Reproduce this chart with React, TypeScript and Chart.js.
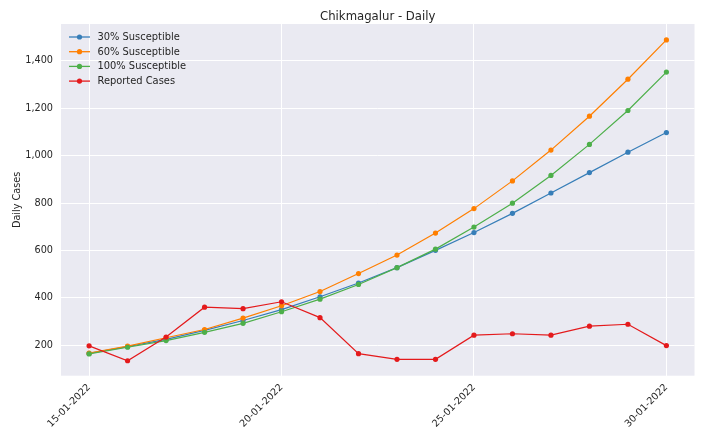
import React, { useEffect, useRef } from "react";
import { Chart, registerables } from "chart.js";

Chart.register(...registerables);

const dates = [
  "15-01-2022", "16-01-2022", "17-01-2022", "18-01-2022", "19-01-2022", "20-01-2022",
  "21-01-2022", "22-01-2022", "23-01-2022", "24-01-2022", "25-01-2022", "26-01-2022",
  "27-01-2022", "28-01-2022", "29-01-2022", "30-01-2022",
];
const tickDates = ["15-01-2022", "20-01-2022", "25-01-2022", "30-01-2022"];
const yTicks = [200, 400, 600, 800, 1000, 1200, 1400];

const susceptible30 = [166, 195, 225, 263, 305, 351, 405, 463, 528, 601, 676, 757, 843, 929, 1015, 1098];
const susceptible60 = [167, 197, 232, 267, 315, 367, 427, 503, 581, 674, 777, 894, 1024, 1167, 1323, 1489];
const susceptible100 = [164, 192, 220, 255, 293, 342, 395, 457, 528, 606, 699, 800, 917, 1048, 1191, 1353];
const reported = [198, 135, 235, 361, 355, 384, 317, 165, 141, 141, 243, 249, 243, 281, 289, 199];

const seriesNames = ["30% Susceptible", "60% Susceptible", "100% Susceptible", "Reported Cases"];
const seriesColors = ["#377eb8", "#ff7f00", "#4daf4a", "#e41a1c"];
const seriesValues = [susceptible30, susceptible60, susceptible100, reported];

const titleText = "Chikmagalur - Daily";
const yLabel = "Daily Cases";
const FONT = "'DejaVu Sans', sans-serif";
const TEXT = "#262626";

const decorPlugin = {
  id: "decor",
  beforeDraw(chart: any) {
    const { ctx, chartArea } = chart;
    ctx.save();
    ctx.fillStyle = "#ffffff";
    ctx.fillRect(0, 0, chart.width, chart.height);
    ctx.fillStyle = "#eaeaf2";
    ctx.fillRect(chartArea.left, chartArea.top, chartArea.right - chartArea.left, chartArea.bottom - chartArea.top);
    ctx.restore();
  },
  afterDraw(chart: any) {
    const { ctx, chartArea } = chart;
    ctx.save();
    ctx.fillStyle = TEXT;
    ctx.font = `11.7px ${FONT}`;
    ctx.textAlign = "center";
    ctx.textBaseline = "alphabetic";
    ctx.fillText(titleText, (chartArea.left + chartArea.right) / 2, 20);
    ctx.save();
    ctx.translate(17, (chartArea.top + chartArea.bottom) / 2);
    ctx.rotate(-Math.PI / 2);
    ctx.font = `9.7px ${FONT}`;
    ctx.textAlign = "center";
    ctx.textBaseline = "middle";
    ctx.fillText(yLabel, 0, 0);
    ctx.restore();
    const x0 = 69;
    const rowY0 = 37;
    const rowH = 14.7;
    seriesNames.forEach((name, i) => {
      const y = rowY0 + i * rowH;
      ctx.strokeStyle = seriesColors[i];
      ctx.lineWidth = 1.3;
      ctx.beginPath();
      ctx.moveTo(x0, y);
      ctx.lineTo(x0 + 21, y);
      ctx.stroke();
      ctx.fillStyle = seriesColors[i];
      ctx.beginPath();
      ctx.arc(x0 + 10.5, y, 2.6, 0, Math.PI * 2);
      ctx.fill();
      ctx.fillStyle = TEXT;
      ctx.font = `9.9px ${FONT}`;
      ctx.textAlign = "left";
      ctx.textBaseline = "middle";
      ctx.fillText(name, 97.5, y + 0.5);
    });
    ctx.restore();
  },
};

export default function App() {
  const ref = useRef<HTMLCanvasElement | null>(null);
  useEffect(() => {
    document.body.style.margin = "0";
    const canvas = ref.current;
    if (!canvas) return;
    const order = [4, 3, 2, 1];
    const chart = new Chart(canvas, {
      type: "line",
      data: {
        datasets: seriesNames.map((name, i) => ({
          label: name,
          data: seriesValues[i].map((v, j) => ({ x: j, y: v })),
          borderColor: seriesColors[i],
          backgroundColor: seriesColors[i],
          borderWidth: 1.2,
          pointRadius: 2.6,
          pointBorderWidth: 0,
          pointHoverRadius: 2.6,
          tension: 0,
          order: order[i],
        })),
      },
      options: {
        animation: false,
        responsive: false,
        maintainAspectRatio: false,
        layout: { padding: { left: 0, right: 12.5, top: 24, bottom: 0 } },
        plugins: { legend: { display: false }, title: { display: false }, tooltip: { enabled: false } },
        scales: {
          x: {
            type: "linear",
            min: -0.73,
            max: dates.length - 1 + 0.73,
            afterFit: (s: any) => { s.height = 59.3; s.paddingRight = 0; s.paddingLeft = 0; },
            afterBuildTicks: (s: any) => {
              s.ticks = tickDates.map((d) => ({ value: dates.indexOf(d) }));
            },
            grid: { color: "#ffffff", lineWidth: 1, drawTicks: false },
            border: { display: false },
            ticks: {
              autoSkip: false,
              maxRotation: 45,
              minRotation: 45,
              padding: 6,
              color: TEXT,
              font: { family: FONT, size: 9.7 },
              callback: (v: any) => dates[Math.round(Number(v))] ?? "",
            },
          },
          y: {
            type: "linear",
            min: 72,
            max: 1556,
            afterFit: (s: any) => { s.width = 61; s.paddingTop = 0; s.paddingBottom = 0; },
            afterBuildTicks: (s: any) => {
              s.ticks = yTicks.map((v) => ({ value: v }));
            },
            grid: { color: "#ffffff", lineWidth: 1, drawTicks: false },
            border: { display: false },
            ticks: {
              padding: 8,
              color: TEXT,
              font: { family: FONT, size: 9.7 },
              callback: (v: any) => Number(v).toLocaleString("en-US"),
            },
          },
        },
      },
      plugins: [decorPlugin],
    });
    return () => chart.destroy();
  }, []);
  return <canvas ref={ref} width={707} height={435} style={{ display: "block" }} />;
}
